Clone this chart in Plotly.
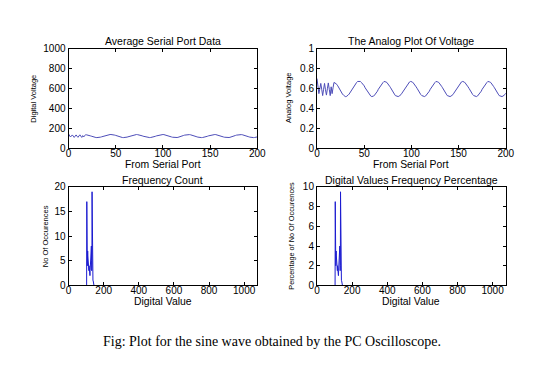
import plotly.graph_objects as go

# ---------------- data ----------------
sample_index = list(range(0, 201))

digital_voltage = [
    143, 128, 112, 122, 133, 121, 108, 121, 133, 120,
    109, 122, 134, 121, 108, 126, 112, 124, 135, 134,
    133, 131, 128, 124, 121, 117, 114, 111, 109, 107,
    106, 106, 107, 109, 111, 114, 117, 121, 124, 128,
    131, 133, 135, 137, 137, 137, 137, 135, 133, 131,
    128, 124, 121, 117, 114, 111, 109, 107, 106, 106,
    107, 109, 111, 114, 117, 121, 124, 128, 131, 133,
    135, 137, 137, 136, 135, 133, 130, 127, 124, 120,
    117, 114, 111, 108, 107, 106, 106, 107, 108, 110,
    113, 116, 119, 123, 126, 129, 132, 134, 136, 137,
    137, 136, 134, 132, 129, 126, 123, 119, 116, 113,
    110, 108, 107, 106, 106, 107, 109, 111, 114, 117,
    121, 124, 128, 131, 133, 135, 137, 137, 136, 135,
    133, 130, 127, 124, 120, 117, 114, 111, 108, 107,
    106, 106, 107, 108, 110, 113, 116, 119, 123, 126,
    129, 132, 134, 136, 137, 137, 136, 134, 132, 129,
    126, 123, 119, 116, 113, 110, 108, 107, 106, 106,
    107, 109, 111, 114, 117, 121, 124, 128, 131, 133,
    135, 137, 137, 136, 135, 133, 130, 127, 124, 120,
    117, 114, 111, 108, 107, 106, 106, 107, 108, 110,
    113,
]

ADC_FULL_SCALE = 1023
V_REF = 5.0

hist_values = list(range(104, 141))
hist_counts = [
    17, 4, 6, 4, 14, 7, 6, 5, 4, 4,
    3, 4, 3, 4, 2, 3, 4, 3, 2, 3,
    4, 3, 4, 4, 4, 5, 8, 5, 3, 4,
    19, 8, 12, 11, 2, 1, 1,
]

x_ticks_top = [0, 50, 100, 150, 200]
y_ticks_digital = [0, 200, 400, 600, 800, 1000]
y_ticks_analog = [0, 0.2, 0.4, 0.6, 0.8, 1]
x_ticks_hist = [0, 200, 400, 600, 800, 1000]
y_ticks_count = [0, 5, 10, 15, 20]
y_ticks_pct = [0, 2, 4, 6, 8, 10]

# ---------------- derived tables ----------------
analog_voltage = [d * V_REF / ADC_FULL_SCALE for d in digital_voltage]
all_values = list(range(0, ADC_FULL_SCALE + 1))
count_map = dict(zip(hist_values, hist_counts))
full_counts = [count_map.get(v, 0) for v in all_values]
total = sum(hist_counts)
full_pct = [c * 100.0 / total for c in full_counts]

FONT = "Liberation Sans"
SINE_COLOR = "#4d4db8"
HIST_COLOR = "#1c1cd0"

fig = go.Figure()
fig.add_trace(go.Scatter(x=sample_index, y=digital_voltage, mode="lines",
                         line=dict(color=SINE_COLOR, width=1), xaxis="x", yaxis="y"))
fig.add_trace(go.Scatter(x=sample_index, y=analog_voltage, mode="lines",
                         line=dict(color=SINE_COLOR, width=1), xaxis="x2", yaxis="y2"))
fig.add_trace(go.Scatter(x=all_values, y=full_counts, mode="lines",
                         line=dict(color=HIST_COLOR, width=1), xaxis="x3", yaxis="y3"))
fig.add_trace(go.Scatter(x=all_values, y=full_pct, mode="lines",
                         line=dict(color=HIST_COLOR, width=1), xaxis="x4", yaxis="y4"))

W, H = 550, 365

def dom_x(a, b):
    return [a / W, b / W]

def dom_y(top, bottom):
    return [1 - bottom / H, 1 - top / H]

common = dict(showline=True, linecolor="black", linewidth=1, mirror="ticks",
              ticks="inside", ticklen=3, tickcolor="black", showgrid=False,
              zeroline=False, tickfont=dict(family=FONT, size=10, color="black"))
xcommon = dict(common, ticklabelstandoff=-4)

fig.update_layout(
    width=W, height=H, margin=dict(l=0, r=0, t=0, b=0),
    paper_bgcolor="white", plot_bgcolor="white", showlegend=False,
    xaxis=dict(domain=dom_x(67, 260), anchor="y", range=[0, 200], tickvals=x_ticks_top, **xcommon),
    yaxis=dict(domain=dom_y(44, 147), anchor="x", range=[0, 1000], tickvals=y_ticks_digital, **common),
    xaxis2=dict(domain=dom_x(321, 514), anchor="y2", range=[0, 200], tickvals=x_ticks_top, **xcommon),
    yaxis2=dict(domain=dom_y(44, 147), anchor="x2", range=[0, 1], tickvals=y_ticks_analog, **common),
    xaxis3=dict(domain=dom_x(67, 260), anchor="y3", range=[0, 1075], tickvals=x_ticks_hist, **xcommon),
    yaxis3=dict(domain=dom_y(187, 289), anchor="x3", range=[0, 20], tickvals=y_ticks_count, **common),
    xaxis4=dict(domain=dom_x(321, 514), anchor="y4", range=[0, 1075], tickvals=x_ticks_hist, **xcommon),
    yaxis4=dict(domain=dom_y(187, 289), anchor="x4", range=[0, 10], tickvals=y_ticks_pct, **common),
)

def note(text, cx, cy, size, angle=0, family=FONT):
    fig.add_annotation(text=text, x=cx / W, y=1 - cy / H, xref="paper", yref="paper",
                       xanchor="center", yanchor="middle", showarrow=False, textangle=angle,
                       font=dict(family=family, size=size, color="black"))

# panel titles
note("Average Serial Port Data", 163.5, 36, 10.5)
note("The Analog Plot Of Voltage", 417.5, 36, 10.5)
note("Frequency Count", 163.5, 180, 10.5)
note("Digital Values Frequency Percentage", 417.5, 180, 10.5)

# x-axis titles
note("From Serial Port", 163.5, 164, 10.4)
note("From Serial Port", 417.5, 164, 10.4)
note("Digital Value", 163.5, 306, 10.4)
note("Digital Value", 417.5, 306, 10.4)

# y-axis titles
note("Digital Voltage", 31, 95.5, 7.5, -90)
note("Analog Voltage", 292, 95.5, 7.5, -90)
note("No Of Occurences", 43, 238, 7.5, -90)
note("Percentage of No Of Occurences", 295, 238, 7.3, -90)

# caption
note("Fig: Plot for the sine wave obtained by the PC Oscilloscope.", 275, 347, 14,
     family="Liberation Serif")

fig.write_html("out.html", config={"displayModeBar": False},
               post_script="document.body.style.margin='0';document.body.style.padding='0';")
